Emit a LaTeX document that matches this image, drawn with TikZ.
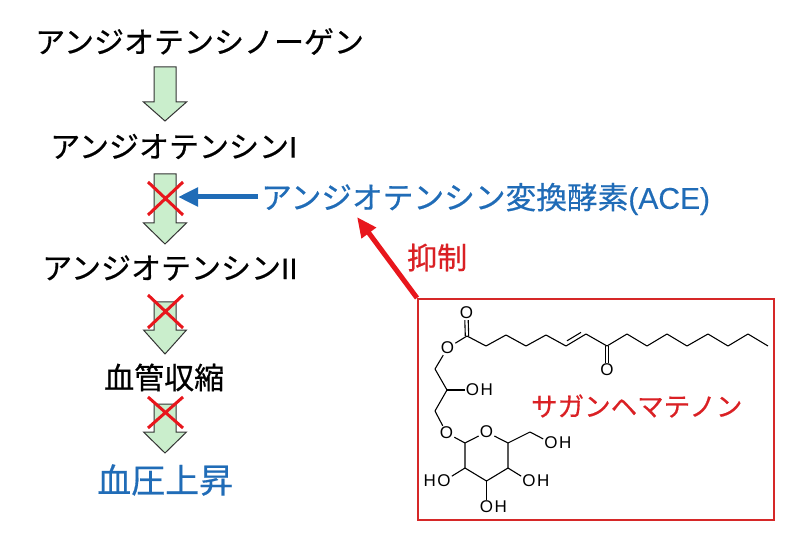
\documentclass[tikz,border=0pt]{standalone}
\usepackage{fontspec}
\setmainfont{Noto Sans CJK JP}[FakeBold=0.5]
\newfontfamily\chemfont{Liberation Sans}
\newfontfamily\latfont{Liberation Sans}[FakeBold=0.3]
\usetikzlibrary{arrows.meta}
\definecolor{aceblue}{RGB}{32,108,183}
\definecolor{txtred}{RGB}{218,32,36}
\definecolor{brightred}{RGB}{232,22,28}
\definecolor{boxred}{RGB}{214,40,40}
\definecolor{palegreen}{RGB}{202,238,204}
\newcommand\blkarrow[4]{%
  \draw[blkarrow] (#1-11,#2) -- (#1+11,#2) -- (#1+11,#3) -- (#1+21.5,#3)
     -- (#1,#4) -- (#1-21.5,#3) -- (#1-11,#3) -- cycle;}
\tikzset{
  lbl/.style={inner sep=0pt, anchor=west},
  blkarrow/.style={draw=black!80, fill=palegreen, line width=1pt, line join=miter},
  xmark/.style={draw=brightred, line width=3pt},
  bond/.style={draw=black, line width=1.1pt, line join=round},
  atom/.style={inner sep=1pt, font=\chemfont\fontsize{17}{20}\selectfont},
  hlbl/.style={inner sep=0pt, font=\chemfont\fontsize{17}{20}\selectfont},
}
\begin{document}
\begin{tikzpicture}[x=1pt,y=-1pt]
\useasboundingbox[fill=white] (0,0) rectangle (801,540);
% texts
\begingroup
\fontsize{30}{36}\selectfont
\node[lbl] (t1) at (35,41.5) {アンジオテンシノーゲン};
\node[lbl] (t2) at (50,146.5) {アンジオテンシン{\latfont I}};
\node[lbl] (t3) at (42,268) {アンジオテンシン{\latfont II}};
\node[lbl] (t4) at (104,377.5) {血管収縮};
\node[lbl, text=aceblue] (ace) at (261,199) {{\fontsize{30.7}{36}\selectfont アンジオテンシン変換酵素}{\latfont (ACE)}};
\node[lbl, text=txtred] (inh) at (407,257.5) {抑制};
\endgroup
\node[lbl, text=aceblue, font=\fontsize{34}{40}\selectfont] (t5) at (97,480) {血圧上昇};
\node[lbl, text=txtred, font=\fontsize{26.5}{32}\selectfont] (sag) at (531,406) {サガンヘマテノン};
% block arrows
\blkarrow{165}{67}{102}{121}
\blkarrow{165}{174}{223}{244}
\blkarrow{165}{302}{330}{354}
\blkarrow{165}{404}{432}{453}
% crosses
\draw[xmark] (148,182) -- (183,215) (183,182) -- (148,215);
\draw[xmark] (148,295) -- (183,328) (183,295) -- (148,328);
\draw[xmark] (148,397) -- (183,428) (183,397) -- (148,428);
% box
\node[draw=boxred, line width=1.6pt, minimum width=356pt, minimum height=221pt, inner sep=0pt, anchor=north west] (box) at (417,298) {};
% connectors
\coordinate (acetip) at (178,197);
\coordinate (redtip) at (357,217);
\draw[aceblue, line width=5pt, -{Triangle[length=20pt,width=18pt]}] ([xshift=-3pt,yshift=2pt]ace.west) -- (acetip);
\draw[brightred, line width=5pt, -{Triangle[length=20pt,width=17pt]}] (box.north west) -- (redtip);
% molecule
\coordinate (c1) at (467,336);
\node[atom] (oc) at (466.5,313) {O};
\node[atom] (oe) at (447.5,348) {O};
\coordinate (k1) at (486,346);
\coordinate (k2) at (506,335);
\coordinate (k3) at (526,346);
\coordinate (k4) at (546,335);
\coordinate (k5) at (566,346);
\coordinate (k6) at (586,334);
\coordinate (k7) at (607,346);
\coordinate (k8) at (627,334);
\coordinate (k9) at (647,346);
\coordinate (k10) at (667,334);
\coordinate (k11) at (687,346);
\coordinate (k12) at (708,334);
\coordinate (k13) at (728,346);
\coordinate (k14) at (748,334);
\coordinate (k15) at (768,346);
\node[atom] (ok) at (607,370) {O};
\draw[bond] (oe) -- (c1) -- (k1) -- (k2) -- (k3) -- (k4) -- (k5) -- (k6) -- (k7) -- (k8)
  -- (k9) -- (k10) -- (k11) -- (k12) -- (k13) -- (k14) -- (k15);
\draw[bond] ([xshift=-1.7pt]c1) -- ([xshift=-1.7pt]oc.south);
\draw[bond] ([xshift=1.7pt]c1) -- ([xshift=1.7pt]oc.south);
\draw[bond] ([xshift=-1.7pt]k7) -- ([xshift=-1.7pt]ok.north);
\draw[bond] ([xshift=1.7pt]k7) -- ([xshift=1.7pt]ok.north);
\draw[bond] (567,340.8) -- (581,332.4);
% glycerol
\coordinate (g1) at (435,369);
\coordinate (g2) at (447,390);
\coordinate (g3) at (435,411);
\node[atom, label={[hlbl]east:H}] (oh1) at (472.5,390) {O};
\node[atom] (og) at (446.5,433) {O};
\draw[bond] (oe) -- (g1) -- (g2) -- (g3) -- (og);
\draw[bond] (g2) -- (oh1);
% sugar ring
\coordinate (r1) at (465,443);
\node[atom] (or) at (486.5,432) {O};
\coordinate (r5) at (508,443);
\coordinate (r4) at (508,468);
\coordinate (r3) at (486.5,481);
\coordinate (r2) at (465,468);
\coordinate (m6) at (530,432);
\node[atom, label={[hlbl]east:H}] (o6) at (551,443) {O};
\node[atom, label={[hlbl]east:H}] (o4) at (529,481) {O};
\node[atom, label={[hlbl]east:H}] (o3) at (486.5,507) {O};
\node[atom, label={[hlbl]west:H}] (o2) at (444,481) {O};
\draw[bond] (og) -- (r1) -- (or) -- (r5) -- (r4) -- (r3) -- (r2) -- (r1);
\draw[bond] (r5) -- (m6) -- (o6);
\draw[bond] (r4) -- (o4);
\draw[bond] (r3) -- (o3);
\draw[bond] (r2) -- (o2);
\end{tikzpicture}
\end{document}
